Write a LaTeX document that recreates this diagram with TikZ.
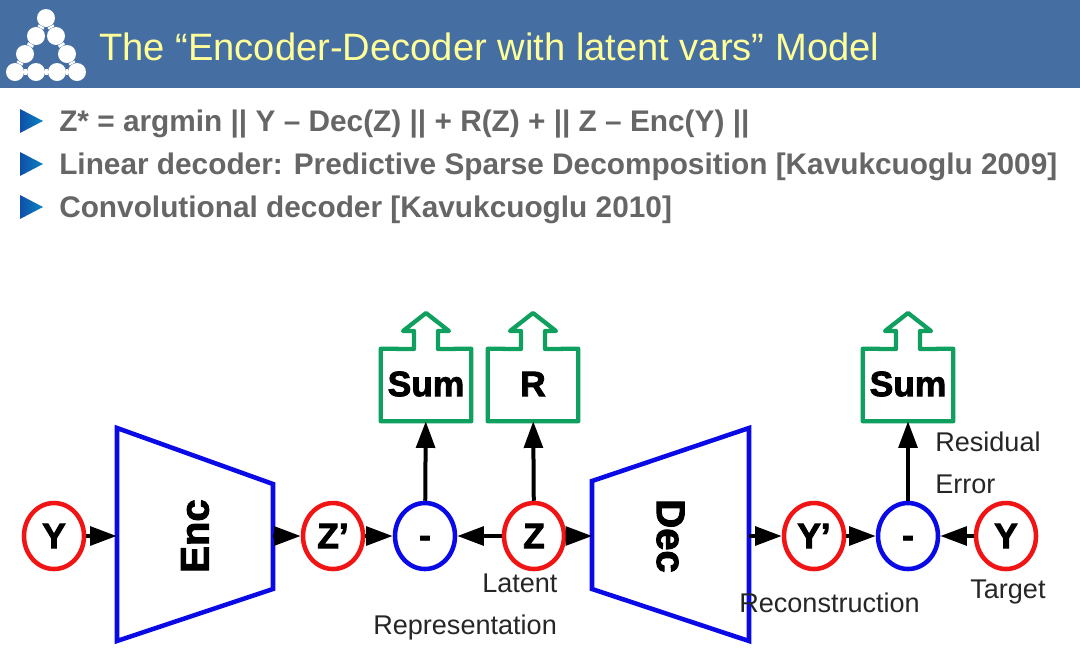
\documentclass[tikz,border=0pt]{standalone}
\usepackage{fontspec}
\setmainfont{Liberation Sans}
\newfontfamily\heavyfont[FakeBold=2.5]{Liberation Sans Bold}
\usetikzlibrary{arrows.meta, shapes.geometric}

\definecolor{headblue}{HTML}{456EA3}
\definecolor{titleyellow}{HTML}{FFFF99}
\definecolor{bulletgray}{HTML}{666666}
\definecolor{netred}{HTML}{F01414}
\definecolor{netblue}{HTML}{0A0AE6}
\definecolor{netgreen}{HTML}{0FA060}
\definecolor{tipblue}{HTML}{0F4FA8}

\tikzset{
    varnode/.style={ellipse, draw=netred, line width=3.4pt, fill=white, minimum width=45pt, minimum height=49.5pt, inner sep=0pt, font=\heavyfont\fontsize{26.5}{26.5}\selectfont},
    diffnode/.style={varnode, draw=netblue},
    blocknode/.style={inner sep=0pt, font=\heavyfont\fontsize{26.5}{26.5}\selectfont},
    blockline/.style={draw=netblue, line width=3.4pt, line join=miter},
    scoreline/.style={draw=netgreen, line width=3.2pt, line join=round},
    link/.style={line width=3pt, -{Triangle[length=20pt,width=14pt]}},
    bullettext/.style={anchor=west, inner sep=0pt, text=bulletgray, font=\bfseries\fontsize{22.35}{26}\selectfont},
    labeltext/.style={anchor=west, inner sep=0pt, text=black!85, font=\fontsize{20.3}{24}\selectfont},
    logodot/.style={circle, fill=white, minimum size=13.5pt, inner sep=0pt}
}

\begin{document}
\begin{tikzpicture}[x=0.75pt, y=-0.75pt]
    \useasboundingbox (0,0) rectangle (1080,665);

    % Header band
    \fill[headblue] (0,0) rectangle (1080,88);
    \node[anchor=west, inner sep=0pt, text=titleyellow, font=\fontsize{28.6}{34}\selectfont] (title) at (99,47) {The “Encoder-Decoder with latent vars” Model};

    % Logo
    \foreach \name/\px/\py in {a/46/18, b/36/36, c/56/36, d/25/54, e/67/54, f/15/72, g/36/72, h/57/72, i/77/72} {
        \node[logodot] (logo\name) at (\px,\py) {};
    }
    \foreach \from/\to in {a/b, a/c, b/d, c/e, d/f, e/i, f/g, g/h, h/i} {
        \draw[white, line width=5pt] (logo\from) -- (logo\to);
    }

    % Bullets
    \foreach \name/\py in {one/121, two/164, three/207} {
        \shade[left color=tipblue, right color=tipblue!70!cyan] (20,\py-12) -- (43,\py) -- (20,\py+12) -- cycle;
    }
    \node[bullettext] (lineone) at (59,124) {Z* = argmin || Y – Dec(Z) || + R(Z) + || Z – Enc(Y) ||};
    \node[bullettext] (linetwo) at (59,167) {Linear decoder: Predictive Sparse Decomposition [Kavukcuoglu 2009]};
    \node[bullettext] (linethree) at (59,210) {Convolutional decoder [Kavukcuoglu 2010]};

    % Encoder and decoder
    \node[blocknode, minimum width=117pt, minimum height=78pt, font=\heavyfont\fontsize{30}{30}\selectfont] (enc) at (195,536) {\rotatebox{90}{Enc}};
    \node[blocknode, minimum width=117pt, minimum height=78pt, font=\heavyfont\fontsize{30}{30}\selectfont] (dec) at (670.5,536) {\rotatebox{-90}{Dec}};
    \draw[blockline] (117,428) -- (273,484) -- (273,589) -- (117,641) -- cycle;
    \draw[blockline] (592,481) -- (749,428) -- (749,641) -- (592,589) -- cycle;

    % Variables
    \node[varnode] (Yin) at (54,536) {Y};
    \node[varnode] (Zenc) at (333,536) {Z’};
    \node[diffnode] (diffZ) at (425,536) {\smash{\raisebox{-8.5pt}{-}}};
    \node[varnode] (Z) at (534,536) {Z};
    \node[varnode] (Yrec) at (814,536) {Y’};
    \node[diffnode] (diffY) at (908,536) {\smash{\raisebox{-8.5pt}{-}}};
    \node[varnode] (Yout) at (1006,536) {Y};

    % Score boxes
    \foreach \name/\px/\txt in {sumZ/426/Sum, regZ/533/R, sumY/908/Sum} {
        \node[blocknode, minimum width=67.5pt, minimum height=54pt] (\name) at (\px,385) {};
        \node[blocknode] at (\px,384) {\txt};
        \draw[scoreline] (\name.south west) -- (\name.south east) -- (\name.north east) -- (\px+12,349) -- (\px+12,331) -- (\px+23,331) -- (\px,313) -- (\px-23,331) -- (\px-12,331) -- (\px-12,349) -- (\name.north west) -- cycle;
    }

    % Connectors
    \draw[link] (Yin) -- (enc.west);
    \draw[link] (enc.east) -- (Zenc);
    \draw[link] (Zenc) -- (diffZ);
    \draw[link] (Z) -- (diffZ);
    \draw[link] (Z) -- (dec.west);
    \draw[link] (dec.east) -- (Yrec);
    \draw[link] (Yrec) -- (diffY);
    \draw[link] (Yout) -- (diffY);
    \draw[link] (diffZ) -- (sumZ);
    \draw[link] (Z) -- (regZ);
    \draw[link] (diffY) -- (sumY);

    % Labels
    \node[labeltext] (latent) at (482,583) {Latent};
    \node[labeltext] (repr) at (373,627) {Representation};
    \node[labeltext] (recon) at (739,603) {Reconstruction};
    \node[labeltext] (target) at (970,592) {Target};
    \node[labeltext] (resid) at (935,442) {Residual};
    \node[labeltext] (error) at (935,484) {Error};
\end{tikzpicture}
\end{document}
